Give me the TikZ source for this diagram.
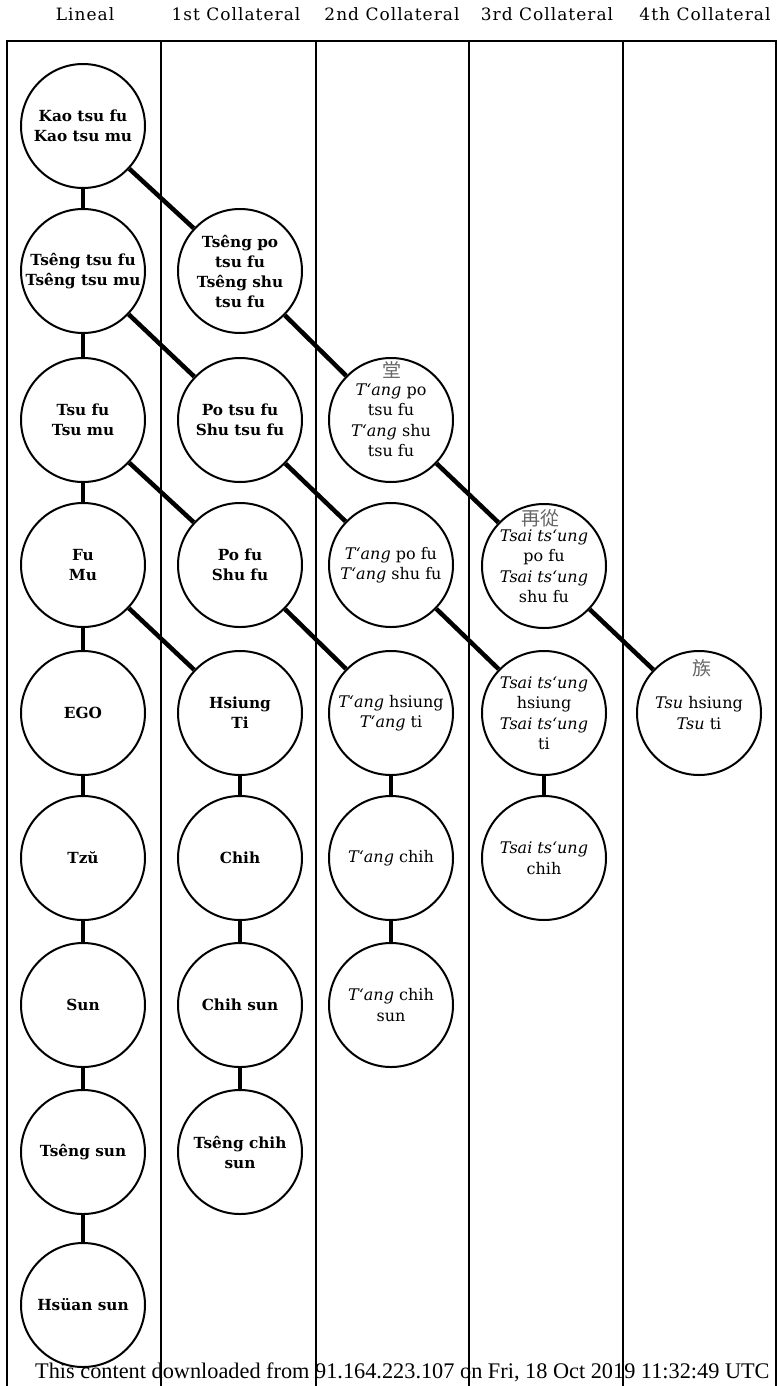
\documentclass[tikz,border=0pt]{standalone}
\usepackage{fontspec}
\setmainfont{DejaVu Serif}
\newfontfamily\headfont[LetterSpace=6]{DejaVu Serif}
\newfontfamily\cjkfont{Noto Sans CJK TC}
\newfontfamily\footfont{Liberation Serif}
\begin{document}
\begin{tikzpicture}[x=1pt,y=-1pt,
  person/.style={circle, draw, line width=2pt, minimum size=124pt, inner sep=0pt, align=center,
                 font=\fontsize{16}{20.5}\selectfont},
  linperson/.style={person, font=\fontsize{15.3}{20}\selectfont\bfseries},
  link/.style={line width=4.5pt},
  colline/.style={line width=1.5pt},
  head/.style={font=\headfont\fontsize{17}{19}\selectfont},
  han/.style={font=\cjkfont\fontsize{19}{19}\selectfont, text=black!60, inner sep=0pt}]
\useasboundingbox (0,0) rectangle (778,1386);

% frame
\draw[colline] (7,1386) -- (7,41) -- (776,41) -- (776,1386);
\foreach \x in {161,316,469,623} \draw[colline] (\x,41) -- (\x,1386);

% headers
\node[head] (h0) at (85,14) {Lineal};
\node[head] (h1) at (236,14) {1st Collateral};
\node[head] (h2) at (392,14) {2nd Collateral};
\node[head] (h3) at (547,14) {3rd Collateral};
\node[head] (h4) at (705,14) {4th Collateral};

% lineal
\node[linperson] (L0) at (83,126) {Kao tsu fu\\Kao tsu mu};
\node[linperson] (L1) at (83,271) {Tsêng tsu fu\\Tsêng tsu mu};
\node[linperson] (L2) at (83,420) {Tsu fu\\Tsu mu};
\node[linperson] (L3) at (83,565) {Fu\\Mu};
\node[linperson] (L4) at (83,713) {EGO};
\node[linperson] (L5) at (83,858) {Tzŭ};
\node[linperson] (L6) at (83,1005) {Sun};
\node[linperson] (L7) at (83,1152) {Tsêng sun};
\node[linperson] (L8) at (83,1305) {Hsüan sun};

% 1st collateral
\node[linperson] (A1) at (240,271) {Tsêng po\\tsu fu\\Tsêng shu\\tsu fu};
\node[linperson] (A2) at (240,420) {Po tsu fu\\Shu tsu fu};
\node[linperson] (A3) at (240,565) {Po fu\\Shu fu};
\node[linperson] (A4) at (240,713) {Hsiung\\Ti};
\node[linperson] (A5) at (240,858) {Chih};
\node[linperson] (A6) at (240,1005) {Chih sun};
\node[linperson] (A7) at (240,1152) {Tsêng chih\\sun};

% 2nd collateral
\node[person] (B2) at (391,420) {\textit{T‘ang} po\\tsu fu\\\textit{T‘ang} shu\\tsu fu};
\node[person] (B3) at (391,565) {\textit{T‘ang} po fu\\\textit{T‘ang} shu fu};
\node[person] (B4) at (391,713) {\textit{T‘ang} hsiung\\\textit{T‘ang} ti};
\node[person] (B5) at (391,858) {\textit{T‘ang} chih};
\node[person] (B6) at (391,1005) {\textit{T‘ang} chih\\sun};

% 3rd collateral
\node[person] (D3) at (544,566) {\textit{Tsai ts‘ung}\\po fu\\\textit{Tsai ts‘ung}\\shu fu};
\node[person] (D4) at (544,713) {\textit{Tsai ts‘ung}\\hsiung\\\textit{Tsai ts‘ung}\\ti};
\node[person] (D5) at (544,858) {\textit{Tsai ts‘ung}\\chih};

% 4th collateral
\node[person] (E4) at (699,713) {\textit{Tsu} hsiung\\\textit{Tsu} ti};

% characters
\node[han] (c1) at (392,370) {堂};
\node[han] (c2) at (540,518) {再從};
\node[han] (c3) at (702,668) {族};

% vertical links
\draw[link] (L0) -- (L1);
\draw[link] (L1) -- (L2);
\draw[link] (L2) -- (L3);
\draw[link] (L3) -- (L4);
\draw[link] (L4) -- (L5);
\draw[link] (L5) -- (L6);
\draw[link] (L6) -- (L7);
\draw[link] (L7) -- (L8);
\draw[link] (A4) -- (A5);
\draw[link] (A5) -- (A6);
\draw[link] (A6) -- (A7);
\draw[link] (B4) -- (B5);
\draw[link] (B5) -- (B6);
\draw[link] (D4) -- (D5);

% diagonal links
\draw[link] (L0) -- (A1);
\draw[link] (A1) -- (B2);
\draw[link] (B2) -- (D3);
\draw[link] (D3) -- (E4);
\draw[link] (L1) -- (A2);
\draw[link] (A2) -- (B3);
\draw[link] (B3) -- (D4);
\draw[link] (L2) -- (A3);
\draw[link] (A3) -- (B4);
\draw[link] (L3) -- (A4);

% footer
\node[font=\footfont\fontsize{22.3}{24}\selectfont, anchor=base west, inner sep=0pt] (foot) at (35,1378)
  {This content downloaded from 91.164.223.107 on Fri, 18 Oct 2019 11:32:49 UTC};
\end{tikzpicture}
\end{document}
